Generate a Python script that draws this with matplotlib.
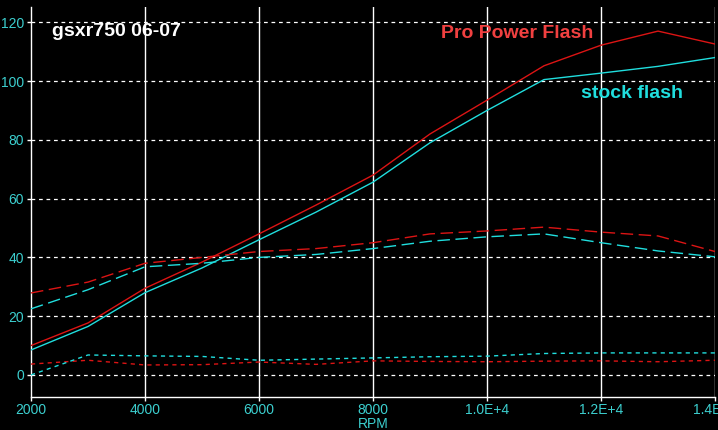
import matplotlib
matplotlib.use('Agg')
import matplotlib.pyplot as plt

rpm = [2000, 3000, 4000, 5000, 6000, 7000, 8000, 9000, 10000, 11000, 12000, 13000, 14000]

# horsepower (solid)
pro_hp = [10, 17.7, 29.5, 38.4, 48, 57.8, 68, 82, 93.5, 105.2, 112.2, 117, 112.6]
stock_hp = [8.5, 16.5, 28, 36.4, 46, 55.4, 65.6, 79, 90, 100.5, 102.7, 105, 108]

# torque (dashed)
pro_tq = [27.9, 31.6, 38, 40, 42, 43, 45, 48, 49, 50.3, 48.6, 47.3, 42]
stock_tq = [22.5, 29, 36.8, 38, 40, 41, 43, 45.5, 47, 48, 45, 42.2, 40.2]

# bottom traces (dotted)
pro_low = [3.7, 5, 3.4, 3.5, 4.4, 3.6, 4.8, 4.6, 4.5, 4.7, 4.8, 4.5, 5]
stock_low = [0, 6.8, 6.5, 6.3, 5, 5.4, 5.8, 6.2, 6.4, 7.3, 7.5, 7.5, 7.5]

RED = '#dc1414'
CYAN = '#20dede'
LABEL = '#3ccfcf'

fig = plt.figure(figsize=(7.18, 4.30), dpi=100, facecolor='black')
ax = fig.add_axes([31 / 718, 1 - 397 / 430, 684 / 718, 390 / 430])
ax.set_facecolor('black')

ax.set_xlim(2000, 14000)
ax.set_ylim(-7.5, 125.2)

for y in range(0, 121, 20):
    ax.axhline(y, color='white', lw=0.9, ls=(0, (3, 3)), zorder=1)
for x in range(4000, 14001, 2000):
    ax.axvline(x, color='white', lw=1, zorder=1)

ax.plot(rpm, pro_hp, color=RED, lw=1, zorder=3)
ax.plot(rpm, stock_hp, color=CYAN, lw=1, zorder=3)
ax.plot(rpm, pro_tq, color=RED, lw=1, ls=(0, (9, 4)), zorder=3)
ax.plot(rpm, stock_tq, color=CYAN, lw=1, ls=(0, (9, 4)), zorder=3)
ax.plot(rpm, pro_low, color=RED, lw=1, ls=(0, (3, 3)), zorder=3)
ax.plot(rpm, stock_low, color=CYAN, lw=1, ls=(0, (3, 3)), zorder=3)

for s in ['top', 'right']:
    ax.spines[s].set_visible(False)
for s in ['left', 'bottom']:
    ax.spines[s].set_color('white')
    ax.spines[s].set_linewidth(1)

ax.set_xticks(range(2000, 14001, 2000))
ax.set_xticklabels(['2000', '4000', '6000', '8000', '1.0E+4', '1.2E+4', '1.4E+4'])
ax.set_yticks(range(0, 121, 20))
ax.tick_params(colors='white', labelcolor=LABEL, length=3, width=1, labelsize=10)
for t in ax.get_xticklabels() + ax.get_yticklabels():
    t.set_family('Liberation Sans')
ax.tick_params(axis='x', pad=1.5)
ax.tick_params(axis='y', pad=2)

ax.set_xlabel('RPM', color=LABEL, fontsize=10, family='Liberation Sans', labelpad=0)

fig.text(52 / 718, 1 - 32 / 430, 'gsxr750 06-07', color='white', fontsize=14,
         fontweight='bold', family='Liberation Sans', va='center', ha='left')
fig.text(441 / 718, 1 - 33 / 430, 'Pro Power Flash', color='#f04040', fontsize=14,
         fontweight='bold', family='Liberation Sans', va='center', ha='left')
fig.text(581 / 718, 1 - 93 / 430, 'stock flash', color=CYAN, fontsize=14,
         fontweight='bold', family='Liberation Sans', va='center', ha='left')

fig.savefig('out.png', dpi=100, facecolor='black')
